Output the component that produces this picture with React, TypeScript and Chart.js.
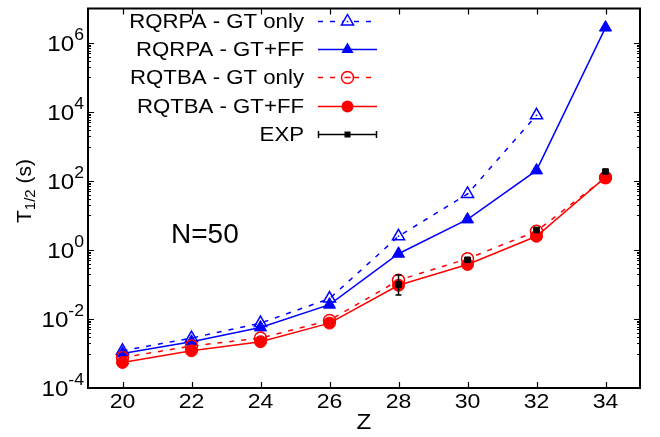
import React, { useEffect, useRef } from "react";
import { Chart, registerables } from "chart.js";

Chart.register(...registerables);

// Half-lives of N=50 isotones versus proton number Z
const zValues = [20, 22, 24, 26, 28, 30, 32, 34];
const rqrpaGtOnly = [1.2e-3, 2.8e-3, 7.6e-3, 0.039, 2.5, 42, 8000, null];
const rqrpaGtFf = [1.0e-3, 2.2e-3, 5.7e-3, 0.026, 0.78, 7.7, 203, 2.8e6];
const rqtbaGtOnly = [7.6e-4, 1.65e-3, 2.8e-3, 9.1e-3, 0.133, 0.56, 3.5, 125];
const rqtbaGtFf = [5.5e-4, 1.2e-3, 2.2e-3, 7.6e-3, 0.095, 0.38, 2.5, 129];

const expZ = [28, 30, 32, 34];
const expValue = [0.1, 0.52, 3.8, 188];
const expLow = [0.05, 0.47, 3.4, 170];
const expHigh = [0.19, 0.57, 4.3, 208];

const xTicks = [20, 22, 24, 26, 28, 30, 32, 34];
const yMajorExponents = [-4, -2, 0, 2, 4, 6];
const yMinorExponents = [-3, -1, 1, 3, 5];

const BLUE = "#0000ff";
const RED = "#ff0000";
const FONT = '"Liberation Sans", Arial, sans-serif';
const STRETCH = 1.1;

const toPoints = (vals: (number | null)[]) =>
  zValues.map((z, i) => ({ x: z, y: vals[i] }));

type Entry = {
  label: string;
  color: string;
  dash: number[];
  marker: "openTri" | "tri" | "openCircle" | "circle" | "exp";
};

const legendEntries: Entry[] = [
  { label: "RQRPA - GT only", color: BLUE, dash: [5, 7], marker: "openTri" },
  { label: "RQRPA - GT+FF", color: BLUE, dash: [], marker: "tri" },
  { label: "RQTBA - GT only", color: RED, dash: [5, 7], marker: "openCircle" },
  { label: "RQTBA - GT+FF", color: RED, dash: [], marker: "circle" },
  { label: "EXP", color: "#000000", dash: [], marker: "exp" },
];

// text with a slight horizontal stretch, aligned after stretching
function wideText(
  ctx: CanvasRenderingContext2D,
  s: string,
  x: number,
  y: number,
  align: "left" | "center" | "right",
  sx = STRETCH
) {
  const w = ctx.measureText(s).width * sx;
  const x0 = align === "right" ? x - w : align === "center" ? x - w / 2 : x;
  ctx.save();
  ctx.translate(x0, y);
  ctx.scale(sx, 1);
  ctx.textAlign = "left";
  ctx.fillText(s, 0, 0);
  ctx.restore();
  return w;
}

function drawMarker(
  ctx: CanvasRenderingContext2D,
  kind: Entry["marker"],
  color: string,
  x: number,
  y: number
) {
  ctx.save();
  ctx.setLineDash([]);
  ctx.strokeStyle = color;
  ctx.fillStyle = color;
  ctx.lineWidth = 1.5;
  const r = 7;
  if (kind === "openTri" || kind === "tri") {
    ctx.beginPath();
    ctx.moveTo(x, y - r);
    ctx.lineTo(x + r * Math.sin((2 * Math.PI) / 3), y + r / 2);
    ctx.lineTo(x - r * Math.sin((2 * Math.PI) / 3), y + r / 2);
    ctx.closePath();
    if (kind === "tri") ctx.fill();
    else {
      ctx.fillStyle = "#ffffff";
      ctx.fill();
      ctx.stroke();
      ctx.fillStyle = color;
      ctx.fillRect(x - 0.75, y - 0.75, 1.5, 1.5);
    }
  } else if (kind === "openCircle" || kind === "circle") {
    ctx.beginPath();
    ctx.arc(x, y, 6, 0, Math.PI * 2);
    if (kind === "circle") ctx.fill();
    else {
      ctx.fillStyle = "#ffffff";
      ctx.fill();
      ctx.stroke();
      ctx.fillStyle = color;
      ctx.fillRect(x - 3, y - 0.75, 6, 1.5);
    }
  } else {
    ctx.fillRect(x - 3, y - 3, 6, 6);
  }
  ctx.restore();
}

const frame = {
  id: "frame",
  afterDatasetsDraw(chart: any) {
    const { ctx, scales } = chart;
    const xs = scales.x;
    const ys = scales.y;
    ctx.save();
    ctx.strokeStyle = "#000";
    ctx.lineWidth = 1.5;
    // error bars of the measured half-lives
    expZ.forEach((z, i) => {
      const px = xs.getPixelForValue(z);
      const y1 = ys.getPixelForValue(expLow[i]);
      const y2 = ys.getPixelForValue(expHigh[i]);
      ctx.beginPath();
      ctx.moveTo(px, y1);
      ctx.lineTo(px, y2);
      ctx.moveTo(px - 3, y1);
      ctx.lineTo(px + 3, y1);
      ctx.moveTo(px - 3, y2);
      ctx.lineTo(px + 3, y2);
      ctx.stroke();
    });
    // centre dots of the open triangles
    ctx.fillStyle = BLUE;
    zValues.forEach((z, i) => {
      const v = rqrpaGtOnly[i];
      if (v == null) return;
      ctx.fillRect(xs.getPixelForValue(z) - 0.75, ys.getPixelForValue(v) - 0.75, 1.5, 1.5);
    });
    ctx.restore();
  },
  afterDraw(chart: any) {
    const { ctx, chartArea: a, scales } = chart;
    const xs = scales.x;
    const ys = scales.y;
    ctx.save();
    ctx.strokeStyle = "#000";
    ctx.fillStyle = "#000";
    ctx.lineWidth = 1.2;

    // ticks on all four sides
    ctx.beginPath();
    xTicks.forEach((t) => {
      const px = Math.round(xs.getPixelForValue(t)) + 0.5;
      ctx.moveTo(px, a.bottom);
      ctx.lineTo(px, a.bottom - 6);
      ctx.moveTo(px, a.top);
      ctx.lineTo(px, a.top + 6);
    });
    yMajorExponents.forEach((e) => {
      const py = Math.round(ys.getPixelForValue(Math.pow(10, e))) + 0.5;
      ctx.moveTo(a.left, py);
      ctx.lineTo(a.left + 6, py);
      ctx.moveTo(a.right, py);
      ctx.lineTo(a.right - 6, py);
    });
    yMinorExponents.forEach((e) => {
      for (let m = 1; m <= 9; m++) {
        const py = Math.round(ys.getPixelForValue(m * Math.pow(10, e))) + 0.5;
        ctx.moveTo(a.left, py);
        ctx.lineTo(a.left + 3, py);
        ctx.moveTo(a.right, py);
        ctx.lineTo(a.right - 3, py);
      }
    });
    ctx.stroke();

    // border
    ctx.lineWidth = 2;
    ctx.strokeRect(a.left, a.top, a.right - a.left, a.bottom - a.top);

    // x tick labels and title
    ctx.font = `21px ${FONT}`;
    ctx.textBaseline = "middle";
    xTicks.forEach((t) => {
      wideText(ctx, String(t), xs.getPixelForValue(t), 402, "center");
    });
    ctx.font = `22px ${FONT}`;
    wideText(ctx, "Z", (a.left + a.right) / 2, 423, "center");

    // y tick labels 10^e
    yMajorExponents.forEach((e) => {
      const py = ys.getPixelForValue(Math.pow(10, e));
      const sup = String(e);
      ctx.font = `22px ${FONT}`;
      const wb = ctx.measureText("10").width * STRETCH;
      ctx.font = `16px ${FONT}`;
      const ws = ctx.measureText(sup).width * STRETCH;
      const x0 = 84 - wb - ws;
      ctx.font = `22px ${FONT}`;
      wideText(ctx, "10", x0, py + 2, "left");
      ctx.font = `16px ${FONT}`;
      wideText(ctx, sup, x0 + wb, py - 7, "left");
    });

    // y axis title T_{1/2} (s)
    ctx.save();
    ctx.translate(25, 191);
    ctx.rotate(-Math.PI / 2);
    ctx.textBaseline = "middle";
    ctx.font = `21px ${FONT}`;
    const wT = ctx.measureText("T").width;
    const wS = ctx.measureText(" (s)").width;
    ctx.font = `15px ${FONT}`;
    const wSub = ctx.measureText("1/2").width;
    let cx = -(wT + wSub + wS) / 2;
    ctx.textAlign = "left";
    ctx.font = `21px ${FONT}`;
    ctx.fillText("T", cx, 0);
    cx += wT;
    ctx.font = `15px ${FONT}`;
    ctx.fillText("1/2", cx, 6);
    cx += wSub;
    ctx.font = `21px ${FONT}`;
    ctx.fillText(" (s)", cx, 0);
    ctx.restore();

    // annotation
    ctx.font = `28px ${FONT}`;
    ctx.textBaseline = "alphabetic";
    wideText(ctx, "N=50", 171, 243, "left", 1.0);

    // legend
    const rows = [21, 49, 77, 106, 134];
    legendEntries.forEach((en, i) => {
      const y = rows[i];
      ctx.font = `20px ${FONT}`;
      ctx.textBaseline = "middle";
      ctx.fillStyle = "#000";
      wideText(ctx, en.label, 304, y + 1, "right", 1.11);
      ctx.save();
      ctx.strokeStyle = en.color;
      ctx.lineWidth = 1.5;
      ctx.setLineDash(en.dash);
      ctx.beginPath();
      ctx.moveTo(318, y + 0.5);
      ctx.lineTo(377, y + 0.5);
      ctx.stroke();
      if (en.marker === "exp") {
        ctx.setLineDash([]);
        ctx.beginPath();
        ctx.moveTo(318.5, y - 3);
        ctx.lineTo(318.5, y + 4);
        ctx.moveTo(376.5, y - 3);
        ctx.lineTo(376.5, y + 4);
        ctx.stroke();
      }
      ctx.restore();
      drawMarker(ctx, en.marker, en.color, 347.5, y + 0.5);
    });

    ctx.restore();
  },
};

export default function App() {
  const canvasRef = useRef<HTMLCanvasElement | null>(null);

  useEffect(() => {
    const canvas = canvasRef.current;
    if (!canvas) return;
    const chart = new Chart(canvas, {
      type: "line",
      data: {
        datasets: [
          {
            label: "EXP",
            data: expZ.map((z, i) => ({ x: z, y: expValue[i] })),
            showLine: false,
            pointStyle: "rect",
            pointRadius: 4,
            pointBackgroundColor: "#000",
            pointBorderColor: "#000",
            pointBorderWidth: 1,
            borderColor: "#000",
          },
          {
            label: "RQTBA - GT+FF",
            data: toPoints(rqtbaGtFf),
            borderColor: RED,
            borderWidth: 1.5,
            pointStyle: "circle",
            pointRadius: 6,
            pointBackgroundColor: RED,
            pointBorderColor: RED,
            pointBorderWidth: 1,
          },
          {
            label: "RQTBA - GT only",
            data: toPoints(rqtbaGtOnly),
            borderColor: RED,
            borderWidth: 1.5,
            borderDash: [5, 7],
            pointStyle: "circle",
            pointRadius: 6,
            pointBackgroundColor: "rgba(0,0,0,0)",
            pointBorderColor: RED,
            pointBorderWidth: 1.5,
          },
          {
            label: "RQRPA - GT+FF",
            data: toPoints(rqrpaGtFf),
            borderColor: BLUE,
            borderWidth: 1.5,
            pointStyle: "triangle",
            pointRadius: 7,
            pointBackgroundColor: BLUE,
            pointBorderColor: BLUE,
            pointBorderWidth: 1,
          },
          {
            label: "RQRPA - GT only",
            data: toPoints(rqrpaGtOnly),
            borderColor: BLUE,
            borderWidth: 1.5,
            borderDash: [5, 7],
            pointStyle: "triangle",
            pointRadius: 7,
            pointBackgroundColor: "rgba(0,0,0,0)",
            pointBorderColor: BLUE,
            pointBorderWidth: 1.5,
          },
        ],
      },
      options: {
        responsive: false,
        animation: false,
        layout: { padding: { left: 88, right: 20, top: 1, bottom: 49 } },
        elements: { line: { tension: 0, fill: false } },
        scales: {
          x: { type: "linear", min: 19, max: 35, display: false },
          y: { type: "logarithmic", min: 1e-4, max: 1e7, display: false },
        },
        plugins: {
          legend: { display: false },
          tooltip: { enabled: false },
        },
      },
      plugins: [frame],
    });
    return () => chart.destroy();
  }, []);

  return (
    <div style={{ position: "fixed", left: 0, top: 0, width: 660, height: 437, background: "#fff" }}>
      <canvas ref={canvasRef} width={660} height={437} style={{ display: "block" }} />
    </div>
  );
}
